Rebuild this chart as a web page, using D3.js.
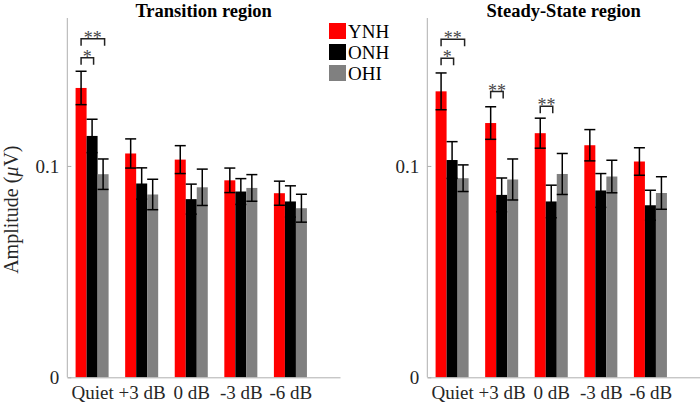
<!DOCTYPE html>
<html>
<head>
<meta charset="utf-8">
<script src="https://cdn.jsdelivr.net/npm/d3@7"></script>
<style>
  html, body { margin: 0; padding: 0; background: #fff; }
  svg { display: block; }
  text { font-family: "Liberation Serif", "Times New Roman", "DejaVu Serif", serif; }
</style>
</head>
<body>
<svg id="chart" width="700" height="403"></svg>
<script>
// ---------------- data ----------------
const categories = ["Quiet", "+3 dB", "0 dB", "-3 dB", "-6 dB"];
const groups = ["YNH", "ONH", "OHI"];
const groupColors = ["#ff0000", "#000000", "#808080"];
const yTicks = [0, 0.1];
const yTickLabels = ["0", "0.1"];

const panelTitles = ["Transition region", "Steady-State region"];

// Transition region
const transYNH = [0.1369, 0.1059, 0.1030, 0.0932, 0.0871];
const transONH = [0.1142, 0.0917, 0.0843, 0.0879, 0.0832];
const transOHI = [0.0961, 0.0865, 0.0899, 0.0896, 0.0800];
const transErrYNH = [0.0079, 0.0069, 0.0066, 0.0058, 0.0057];
const transErrONH = [0.0079, 0.0074, 0.0071, 0.0061, 0.0074];
const transErrOHI = [0.0072, 0.0072, 0.0086, 0.0063, 0.0066];
// significance: [categoryIndex, fromGroup, toGroup, level (µV), label]
const transSig = [[0, 0, 2, 0.1602, "**"], [0, 0, 1, 0.1512, "*"]];

// Steady-State region
const steadyYNH = [0.1353, 0.1203, 0.1155, 0.1098, 0.1021];
const steadyONH = [0.1028, 0.0863, 0.0832, 0.0884, 0.0814];
const steadyOHI = [0.0942, 0.0936, 0.0962, 0.0950, 0.0872];
const steadyErrYNH = [0.0087, 0.0077, 0.0071, 0.0074, 0.0065];
const steadyErrONH = [0.0087, 0.0080, 0.0077, 0.0080, 0.0071];
const steadyErrOHI = [0.0063, 0.0097, 0.0097, 0.0077, 0.0077];
const steadySig = [[0, 0, 2, 0.1600, "**"], [0, 0, 1, 0.1510, "*"],
                   [1, 0, 1, 0.1352, "**"], [2, 0, 1, 0.1282, "**"]];

const panels = [
  { title: panelTitles[0], values: [transYNH, transONH, transOHI],
    errors: [transErrYNH, transErrONH, transErrOHI], sig: transSig, legend: true },
  { title: panelTitles[1], values: [steadyYNH, steadyONH, steadyOHI],
    errors: [steadyErrYNH, steadyErrONH, steadyErrOHI], sig: steadySig, legend: false }
];

// ---------------- layout ----------------
const FONT = '"Liberation Serif", "Times New Roman", "DejaVu Serif", serif';
const svg = d3.select("#chart");
const plotTop = 18, plotBottom = 377.3;
const panelX = [[67.3, 340], [427.3, 700]];
const barW = 0.222;      // in category units
const offsets = [-0.222, 0, 0.222];

const y = d3.scaleLinear().domain([0, 0.17]).range([plotBottom, plotTop]);

// y-axis label
svg.append("text")
  .attr("transform", `translate(18,${(plotTop + plotBottom) / 2 + 12}) rotate(-90)`)
  .attr("text-anchor", "middle")
  .style("font-family", FONT)
  .attr("font-size", 20)
  .attr("fill", "#262626")
  .html('Amplitude (<tspan font-style="italic">μ</tspan>V)');

panels.forEach((p, pi) => {
  const x = d3.scaleLinear().domain([0.5, 6]).range(panelX[pi]);
  const g = svg.append("g");
  const px = d => x(d);

  // bars
  p.values.forEach((vals, gi) => {
    g.selectAll(null).data(vals).enter().append("rect")
      .attr("x", (d, i) => px(i + 1 + offsets[gi] - barW / 2))
      .attr("width", px(1 + barW) - px(1))
      .attr("y", d => y(d))
      .attr("height", d => y(0) - y(d))
      .attr("fill", groupColors[gi]);
  });

  // error bars
  p.values.forEach((vals, gi) => {
    const errs = p.errors[gi];
    vals.forEach((v, i) => {
      const cx = px(i + 1 + offsets[gi]);
      const hw = (px(1 + barW) - px(1)) / 2;
      const top = y(v + errs[i]), bot = y(v - errs[i]);
      g.append("line").attr("x1", cx).attr("x2", cx).attr("y1", top).attr("y2", bot)
        .attr("stroke", "#000").attr("stroke-width", 1.5);
      [top, bot].forEach(yy => g.append("line")
        .attr("x1", cx - hw).attr("x2", cx + hw).attr("y1", yy).attr("y2", yy)
        .attr("stroke", "#000").attr("stroke-width", 1.5));
    });
  });

  // axes
  const yAxis = d3.axisLeft(y).tickValues(yTicks).tickFormat((d, i) => yTickLabels[i])
    .tickSizeInner(-4).tickSizeOuter(0).tickPadding(8);
  const ya = g.append("g").attr("transform", `translate(${panelX[pi][0]},0)`).call(yAxis);
  ya.select(".domain").attr("stroke", "#b0b0b0").attr("d", `M0,${plotTop}V${plotBottom}`);
  ya.selectAll(".tick line").attr("stroke", "#b0b0b0");
  ya.selectAll(".tick text").attr("font-size", 19).attr("fill", "#262626")
    .style("font-family", FONT);

  const xAxis = d3.axisBottom(x).tickValues(categories.map((c, i) => i + 1))
    .tickFormat((d, i) => categories[i]).tickSize(0).tickPadding(8);
  const xa = g.append("g").attr("transform", `translate(0,${plotBottom})`).call(xAxis);
  xa.select(".domain").attr("stroke", "#b0b0b0");
  xa.selectAll(".tick text").attr("font-size", 19).attr("fill", "#262626")
    .style("font-family", FONT);

  // title
  g.append("text")
    .attr("x", (panelX[pi][0] + panelX[pi][1]) / 2)
    .attr("y", 16.5)
    .attr("text-anchor", "middle")
    .style("font-family", FONT)
    .attr("font-size", 18.5)
    .attr("font-weight", "bold")
    .attr("fill", "#000")
    .text(p.title);

  // significance brackets
  p.sig.forEach(([ci, g1, g2, lvl, lab]) => {
    const x1 = px(ci + 1 + offsets[g1]), x2 = px(ci + 1 + offsets[g2]) + 1.5;
    const yy = y(lvl);
    g.append("path")
      .attr("d", `M${x1},${yy + 7}V${yy}H${x2}V${yy + 7}`)
      .attr("fill", "none").attr("stroke", "#222").attr("stroke-width", 1.5);
    g.append("text")
      .attr("x", (x1 + x2) / 2).attr("y", yy + 5)
      .attr("text-anchor", "middle").attr("font-size", 18).attr("fill", "#444")
      .style("font-family", FONT)
      .text(lab);
  });

  // legend
  if (p.legend) {
    const lg = g.append("g").attr("transform", "translate(329,23)");
    groups.forEach((name, gi) => {
      lg.append("rect").attr("x", 0).attr("y", gi * 21).attr("width", 17).attr("height", 16)
        .attr("fill", groupColors[gi]);
      lg.append("text").attr("x", 19).attr("y", gi * 21 + 14.5)
        .style("font-family", FONT)
        .attr("font-size", 19).attr("fill", "#000").text(name);
    });
  }
});
</script>
</body>
</html>
